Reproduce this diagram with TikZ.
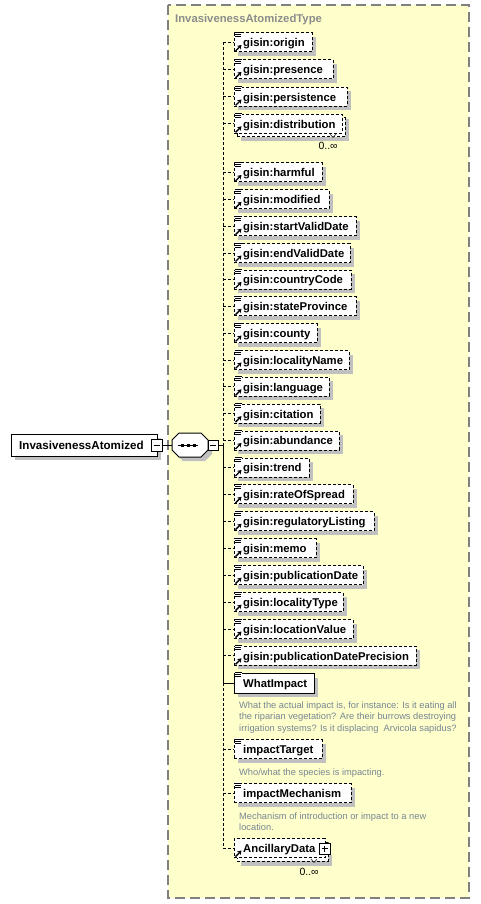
\documentclass[tikz,border=0pt]{standalone}
\usepackage{fontspec}
\setmainfont{Liberation Sans}
\usetikzlibrary{arrows.meta}
\definecolor{ybg}{RGB}{255,255,204}
\definecolor{ybord}{RGB}{128,128,128}
\definecolor{shad}{RGB}{192,192,192}
\definecolor{desc}{RGB}{118,134,146}
\definecolor{ttl}{RGB}{140,140,140}
\tikzset{
  ebox/.style={rectangle, draw=black, fill=white, dash pattern=on 3pt off 2pt, line width=1pt, minimum height=19pt, inner sep=0pt},
  sbox/.style={rectangle, draw=black, fill=white, line width=1pt, minimum height=20pt, inner sep=0pt},
  etext/.style={anchor=base west, inner sep=0pt, font=\fontsize{11.3}{13}\selectfont\bfseries},
  conn/.style={line width=1pt, dash pattern=on 3pt off 2pt},
  sconn/.style={line width=1pt},
  desctext/.style={anchor=north west, inner sep=0pt, align=left, text=desc, font=\fontsize{9.3}{11.5}\selectfont},
  multtext/.style={anchor=base west, inner sep=0pt, font=\fontsize{10.5}{12}\selectfont},
  pmbox/.style={rectangle, draw=black, fill=white, line width=1pt, minimum width=10pt, minimum height=10pt, inner sep=0pt},
}
\newcommand{\eqicon}[1]{%
  \begin{scope}[shift={(#1.north west)}]
    \fill[white] (1,-0.8) rectangle (8.5,5.5);
    \draw[line width=1pt] (1.5,0) -- (8,0) (1.5,2) -- (7.5,2) (1.5,4) -- (7.5,4);
  \end{scope}}
\newcommand{\arricon}[1]{%
  \begin{scope}[shift={(#1.south west)}]
    \draw[line width=1.4pt, -{Stealth[length=4pt,width=5pt]}] (2,-1.5) -- (8,-7.5);
  \end{scope}}
% gisin reference element: name, y, right, text
\newcommand{\gelem}[4]{%
  \fill[shad] (238,#2-5.5) rectangle (#3+4,#2+13.5);
  \node[ebox, minimum width={#3-234}] (#1) at ({(234+#3)/2},#2) {};
  \eqicon{#1}\arricon{#1}
  \node[etext] (#1t) at (243,#2+4.3) {#4};
  \coordinate (#1v) at (223,#2);
  \draw[conn] (#1v) -- (#1.west);
}
% local element without ref arrow: name, y, right, text, style
\newcommand{\lelem}[5]{%
  \fill[shad] (238,#2-5.5) rectangle (#3+4,#2+14);
  \node[#5, minimum width={#3-234}] (#1) at ({(234+#3)/2},#2) {};
  \eqicon{#1}
  \node[etext] (#1t) at (243,#2+4.3) {#4};
  \coordinate (#1v) at (223,#2);
}
\begin{document}
\begin{tikzpicture}[x=1pt,y=-1pt]
\useasboundingbox (0,0) rectangle (480,904);
% type box
\draw[fill=ybg, draw=ybord, line width=1.3pt, dash pattern=on 10pt off 5pt] (168,5) rectangle (469,898);
\node[anchor=base west, inner sep=0pt, text=ttl, font=\fontsize{11.3}{13}\selectfont\bfseries] (title) at (175,23) {InvasivenessAtomizedType};

% root element
\fill[shad] (15,438) rectangle (161,460);
\node[rectangle, draw=black, fill=white, line width=1pt, minimum width=146pt, minimum height=22pt, inner sep=0pt] (root) at (84,445) {};
\node[anchor=base west, inner sep=0pt, font=\fontsize{11.6}{13}\selectfont\bfseries] (roott) at (19,449.3) {InvasivenessAtomized};
\node[pmbox, minimum width=11pt, minimum height=12pt] (rootm) at (156.5,445) {};
\draw[line width=1pt] ([xshift=-3pt]rootm.center) -- ([xshift=3pt]rootm.center);

% sequence compositor
\fill[shad] (176,444) -- (183,437) -- (205,437) -- (212,444) -- (212,454) -- (205,461) -- (183,461) -- (176,454) -- cycle;
\draw[fill=white, line width=1pt] (172,440) -- (179,433) -- (201,433) -- (208,440) -- (208,450) -- (201,457) -- (179,457) -- (172,450) -- cycle;
\coordinate (seqW) at (172,445);
\draw[line width=1pt] (178,445) -- (198,445);
\fill (180.5,443.5) rectangle +(3,3);
\fill (186.5,443.5) rectangle +(3,3);
\fill (192.5,443.5) rectangle +(3,3);
\node[pmbox] (seqm) at (213,445) {};
\draw[line width=1pt] ([xshift=-3pt]seqm.center) -- ([xshift=3pt]seqm.center);
\coordinate (jn) at (223,445);
\draw[sconn] (rootm.east) -- (seqW);
\draw[sconn] (seqm.east) -- (jn);

% first group
\gelem{origin}{42.5}{312}{gisin:origin}
\gelem{presence}{69.3}{333}{gisin:presence}
\gelem{persistence}{97}{347}{gisin:persistence}
% distribution (multiple)
\fill[shad] (241,119.5) rectangle (349,141.5);
\node[ebox, minimum width=108pt] (distb) at (291,127.5) {};
\node[ebox, minimum width=108pt] (distribution) at (288,123.8) {};
\eqicon{distribution}\arricon{distribution}
\node[etext] (distributiont) at (243,128.1) {gisin:distribution};
\coordinate (distributionv) at (223,123.8);
\draw[conn] (distributionv) -- (distribution.west);
\draw[line width=0.8pt, black!70] (330,134) -- (333,137.5) -- (336,134);
\node[multtext] (distm) at (318.3,150) {0..∞};

% second group
\gelem{harmful}{172.5}{322}{gisin:harmful}
\gelem{modified}{199.3}{329}{gisin:modified}
\gelem{startValidDate}{226.2}{356}{gisin:startValidDate}
\gelem{endValidDate}{253}{350}{gisin:endValidDate}
\gelem{countryCode}{279.5}{351}{gisin:countryCode}
\gelem{stateProvince}{306.2}{356}{gisin:stateProvince}
\gelem{county}{333}{317}{gisin:county}
\gelem{localityName}{360}{349}{gisin:localityName}
\gelem{language}{386.8}{329}{gisin:language}
\gelem{citation}{413.7}{320}{gisin:citation}
\gelem{abundance}{440.5}{339}{gisin:abundance}
\gelem{trend}{467.5}{309}{gisin:trend}
\gelem{rateOfSpread}{494.3}{353}{gisin:rateOfSpread}
\gelem{regulatoryListing}{521.2}{374}{gisin:regulatoryListing}
\gelem{memo}{548.2}{316}{gisin:memo}
\gelem{publicationDate}{575.2}{363}{gisin:publicationDate}
\gelem{localityType}{602.1}{343}{gisin:localityType}
\gelem{locationValue}{629}{353}{gisin:locationValue}
\gelem{publicationDatePrecision}{655.8}{416}{gisin:publicationDatePrecision}

% WhatImpact
\lelem{WhatImpact}{683}{314}{WhatImpact}{sbox}
\draw[sconn] (WhatImpactv) -- (WhatImpact.west);
\node[desctext] (d1) at (239,701.5) {What the actual impact is, for instance: Is it eating all\\the riparian vegetation? Are their burrows destroying\\irrigation systems? Is it displacing\ \ Arvicola sapidus?};

% impactTarget
\lelem{impactTarget}{749}{322}{impactTarget}{ebox}
\draw[conn] (impactTargetv) -- (impactTarget.west);
\node[desctext] (d2) at (239,768.5) {Who/what the species is impacting.};

% impactMechanism
\lelem{impactMechanism}{793}{351}{impactMechanism}{ebox}
\draw[conn] (impactMechanismv) -- (impactMechanism.west);
\node[desctext] (d3) at (239,812.5) {Mechanism of introduction or impact to a new\\location.};

% AncillaryData (multiple)
\fill[shad] (241,855) rectangle (332,865.5);
\node[ebox, minimum width=91pt] (ancb) at (282.5,851.5) {};
\node[ebox, minimum width=91pt] (AncillaryData) at (279.5,848) {};
\arricon{AncillaryData}
\node[etext] (AncillaryDatat) at (243,852.3) {AncillaryData};
\node[pmbox, minimum width=11pt, minimum height=11pt] (ancp) at (324.7,848.5) {};
\draw[line width=1pt] ([xshift=-3pt]ancp.center) -- ([xshift=3pt]ancp.center) ([yshift=-3pt]ancp.center) -- ([yshift=3pt]ancp.center);
\coordinate (AncillaryDatav) at (223,848);
\draw[conn] (AncillaryDatav) -- (AncillaryData.west);
\draw[line width=0.8pt, black!70] (311,859) -- (314,862.5) -- (317,859);
\node[multtext] (ancm) at (299.3,875) {0..∞};

% vertical connector
\draw[conn] (originv) -- (jn);
\draw[sconn] (jn) -- (WhatImpactv);
\draw[conn] (WhatImpactv) -- (AncillaryDatav);
\end{tikzpicture}
\end{document}
